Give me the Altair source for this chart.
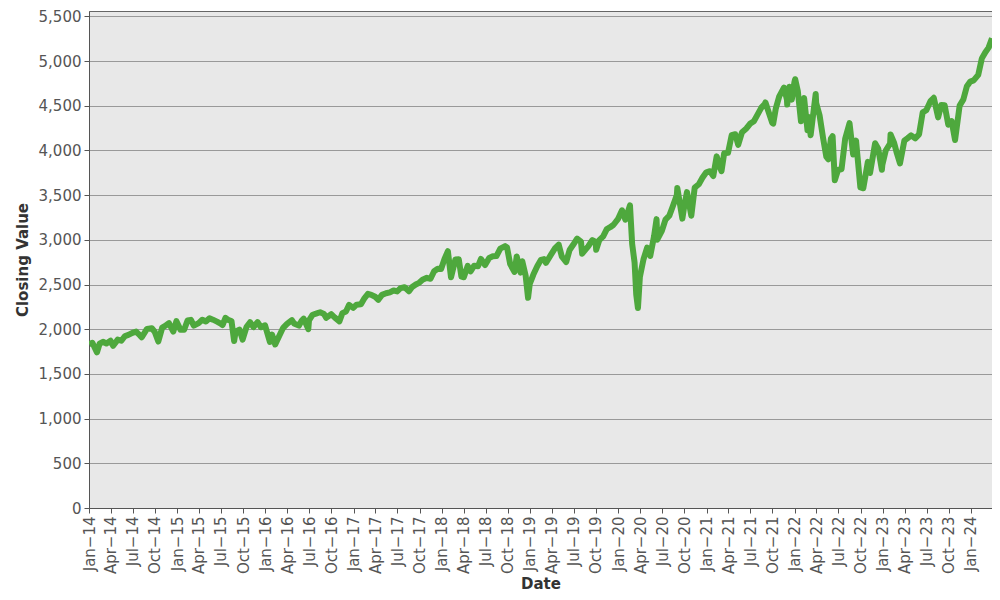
import altair as alt
import pandas as pd

dates = [
    "2014-01-02","2014-01-15","2014-02-03","2014-02-14","2014-02-28","2014-03-14","2014-03-31",
    "2014-04-11","2014-04-30","2014-05-15","2014-05-30","2014-06-13","2014-06-30","2014-07-15",
    "2014-07-31","2014-08-07","2014-08-29","2014-09-18","2014-09-30","2014-10-15","2014-10-31",
    "2014-11-14","2014-11-28","2014-12-16","2014-12-29","2015-01-15","2015-01-30","2015-02-13",
    "2015-02-27","2015-03-11","2015-03-31","2015-04-15","2015-04-30","2015-05-15","2015-05-29",
    "2015-06-15","2015-06-30","2015-07-08","2015-07-20","2015-07-31","2015-08-14","2015-08-25",
    "2015-08-31","2015-09-16","2015-09-29","2015-10-15","2015-10-30","2015-11-13","2015-11-30",
    "2015-12-14","2015-12-31","2016-01-20","2016-01-29","2016-02-11","2016-02-29","2016-03-15",
    "2016-03-31","2016-04-20","2016-04-29","2016-05-19","2016-05-31","2016-06-08","2016-06-27",
    "2016-06-30","2016-07-15","2016-07-29","2016-08-15","2016-08-31","2016-09-09","2016-09-30",
    "2016-10-14","2016-11-03","2016-11-15","2016-11-30","2016-12-13","2016-12-30","2017-01-13",
    "2017-01-31","2017-02-15","2017-03-01","2017-03-15","2017-03-31","2017-04-13","2017-04-28",
    "2017-05-15","2017-05-31","2017-06-15","2017-06-30","2017-07-14","2017-07-31","2017-08-18",
    "2017-08-31","2017-09-15","2017-09-29","2017-10-13","2017-10-31","2017-11-15","2017-11-30",
    "2017-12-15","2017-12-29","2018-01-12","2018-01-26","2018-02-08","2018-02-26","2018-03-12",
    "2018-03-23","2018-04-02","2018-04-18","2018-04-30","2018-05-15","2018-05-31","2018-06-12",
    "2018-06-29","2018-07-16","2018-07-31","2018-08-15","2018-08-31","2018-09-20","2018-09-28",
    "2018-10-11","2018-10-29","2018-11-07","2018-11-23","2018-11-30","2018-12-14","2018-12-24",
    "2018-12-31","2019-01-15","2019-01-31","2019-02-15","2019-02-28","2019-03-08","2019-03-29",
    "2019-04-15","2019-04-30","2019-05-13","2019-05-31","2019-06-14","2019-06-28","2019-07-15",
    "2019-07-31","2019-08-05","2019-08-30","2019-09-16","2019-09-30","2019-10-02","2019-10-15",
    "2019-10-31","2019-11-15","2019-11-29","2019-12-13","2019-12-31","2020-01-17","2020-01-31",
    "2020-02-19","2020-02-28","2020-03-09","2020-03-16","2020-03-23","2020-03-31","2020-04-15",
    "2020-04-30","2020-05-13","2020-05-29","2020-06-08","2020-06-11","2020-06-30","2020-07-15",
    "2020-07-31","2020-08-14","2020-08-31","2020-09-02","2020-09-23","2020-09-30","2020-10-12",
    "2020-10-30","2020-11-13","2020-11-30","2020-12-15","2020-12-31","2021-01-15","2021-01-29",
    "2021-02-12","2021-02-26","2021-03-04","2021-03-15","2021-03-31","2021-04-15","2021-04-30",
    "2021-05-12","2021-05-28","2021-06-15","2021-06-30","2021-07-16","2021-07-30","2021-08-16",
    "2021-08-31","2021-09-02","2021-09-30","2021-10-04","2021-10-15","2021-10-29","2021-11-18",
    "2021-11-30","2021-12-01","2021-12-10","2021-12-20","2021-12-31","2022-01-03","2022-01-14",
    "2022-01-27","2022-01-31","2022-02-09","2022-02-23","2022-02-28","2022-03-08","2022-03-29",
    "2022-03-31","2022-04-14","2022-04-29","2022-05-12","2022-05-20","2022-05-31","2022-06-07",
    "2022-06-16","2022-06-30","2022-07-14","2022-07-29","2022-08-16","2022-08-31","2022-09-12",
    "2022-09-30","2022-10-12","2022-10-31","2022-11-09","2022-11-30","2022-12-13","2022-12-28",
    "2022-12-30","2023-01-13","2023-01-31","2023-02-02","2023-02-16","2023-02-28","2023-03-13",
    "2023-03-31","2023-04-14","2023-04-28","2023-05-15","2023-05-31","2023-06-15","2023-06-30",
    "2023-07-18","2023-07-31","2023-08-18","2023-08-31","2023-09-14","2023-09-29","2023-10-13",
    "2023-10-27","2023-11-15","2023-11-30","2023-12-15","2023-12-29","2024-01-12","2024-01-31",
    "2024-02-15","2024-02-29","2024-03-14","2024-03-28",
]

closes = [
    1832,1848,1741,1838,1859,1841,1872,
    1815,1884,1871,1924,1936,1960,1973,
    1931,1910,2003,2011,1972,1862,2018,
    2039,2068,1973,2090,1993,1995,2097,
    2105,2040,2068,2106,2086,2123,2107,
    2085,2063,2047,2128,2104,2092,1868,
    1972,1996,1884,2024,2079,2023,2080,
    2022,2044,1859,1940,1829,1932,2016,
    2060,2102,2065,2040,2097,2119,2001,
    2099,2162,2174,2190,2171,2128,2168,
    2133,2088,2180,2199,2272,2239,2275,
    2279,2349,2396,2385,2363,2329,2384,
    2402,2412,2433,2423,2459,2470,2425,
    2472,2500,2519,2553,2575,2564,2648,
    2676,2674,2786,2873,2581,2780,2783,
    2588,2582,2708,2648,2711,2705,2786,
    2718,2798,2816,2818,2902,2930,2914,
    2728,2641,2814,2633,2760,2600,2351,
    2507,2611,2704,2776,2784,2743,2834,
    2906,2946,2812,2752,2887,2942,3014,
    2980,2845,2926,2998,2977,2888,2996,
    3038,3120,3141,3169,3231,3330,3226,
    3386,2954,2747,2386,2237,2585,2783,
    2912,2820,3044,3232,3002,3100,3227,
    3271,3373,3500,3580,3237,3363,3534,
    3270,3585,3622,3694,3756,3768,3714,
    3934,3811,3768,3969,3973,4170,4181,
    4063,4204,4246,4298,4327,4395,4479,
    4523,4537,4308,4300,4471,4605,4704,
    4567,4513,4712,4568,4766,4797,4663,
    4326,4516,4587,4226,4374,4170,4632,
    4530,4393,4132,3930,3901,4132,4160,
    3667,3785,3790,4130,4305,3955,4110,
    3586,3577,3872,3748,4080,4019,3783,
    3840,3999,4077,4179,4090,3970,3855,
    4109,4138,4169,4136,4180,4426,4450,
    4555,4589,4370,4508,4505,4288,4327,
    4117,4502,4568,4719,4770,4784,4846,
    5030,5096,5150,5254,
]

y_ticks = [0, 500, 1000, 1500, 2000, 2500, 3000, 3500, 4000, 4500, 5000, 5500]

df = pd.DataFrame({"Date": [d + "T00:00:00" for d in dates], "Close": closes})

FONT = "DejaVu Sans"

chart = (
    alt.Chart(df)
    .mark_line(color="#4ea83d", strokeWidth=6, strokeJoin="round", clip=True)
    .encode(
        x=alt.X(
            "Date:T",
            title="Date",
            scale=alt.Scale(
                domain=[
                    alt.DateTime(year=2014, month=1, date=1),
                    alt.DateTime(year=2024, month=3, date=28),
                ]
            ),
            axis=alt.Axis(
                format="%b\u2212%y",
                tickCount={"interval": "month", "step": 3},
                labelAngle=-90,
                grid=False,
                labelOverlap=False,
                titlePadding=3,
            ),
        ),
        y=alt.Y(
            "Close:Q",
            title="Closing Value",
            scale=alt.Scale(domain=[0, 5560], nice=False),
            axis=alt.Axis(values=y_ticks, format=",.0f"),
        ),
    )
    .properties(
        width=984,
        height=584,
        autosize=alt.AutoSizeParams(type="fit", contains="padding"),
        padding={"left": 7, "top": 2, "right": 0, "bottom": 0},
    )
    .configure_view(fill="#e8e8e8", stroke="#666666", strokeWidth=1)
    .configure_axis(
        labelFont=FONT,
        titleFont=FONT,
        labelFontSize=15,
        titleFontSize=15,
        titleFontWeight="bold",
        labelColor="#555555",
        titleColor="#333333",
        domainColor="#555555",
        tickColor="#555555",
        gridColor="#999999",
        gridWidth=1,
        tickSize=5,
        labelPadding=3,
        titlePadding=8,
    )
)

chart.save("out.html", embed_options={"renderer": "svg", "actions": False})
